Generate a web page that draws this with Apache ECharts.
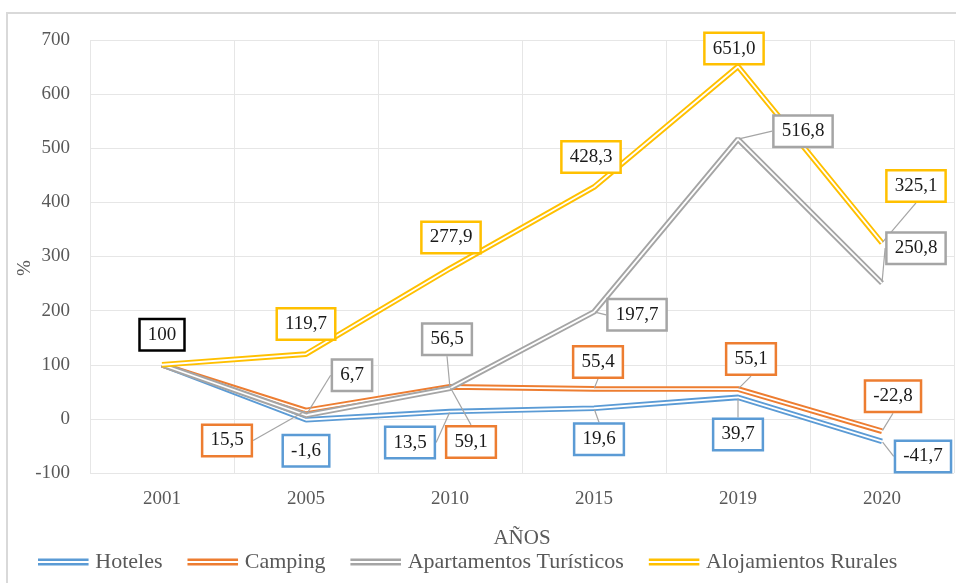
<!DOCTYPE html>
<html>
<head>
<meta charset="utf-8">
<script src="https://cdn.jsdelivr.net/npm/echarts@6/dist/echarts.min.js"></script>
<style>html,body{margin:0;padding:0;background:#fff}#c{width:956px;height:583px}</style>
</head>
<body>
<div id="c"></div>
<script>
// ---- data ----
const years = ['2001', '2005', '2010', '2015', '2019', '2020'];
const seriesNames = ['Hoteles', 'Camping', 'Apartamentos Turísticos', 'Alojamientos Rurales'];
const hoteles = [100, -1.6, 13.5, 19.6, 39.7, -41.7];
const camping = [100, 15.5, 59.1, 55.4, 55.1, -22.8];
const apartamentos = [100, 6.7, 56.5, 197.7, 516.8, 250.8];
const rurales = [100, 119.7, 277.9, 428.3, 651.0, 325.1];
const yTicks = [-100, 0, 100, 200, 300, 400, 500, 600, 700];

// ---- layout / style (not data) ----
const colors = ['#5B9BD5', '#ED7D31', '#A5A5A5', '#FFC000'];
const FONT = 'Liberation Serif';
// label offsets (dx,dy from point) ; null = no label ; third = show leader line
const labelOffsets = [
  [null, [0, 31, 0], [-40, 31, 1], [5, 31, 1], [0, 37, 1], [41, 15, 1]],
  [null, [-79, 30, 1], [21, 55, 1], [4, -27, 1], [13, -30, 1], [11, -35, 1]],
  [null, [46, -40, 1], [-3, -49, 1], [43, 3, 1], [65, -8, 1], [34, -35, 1]],
  [[0, -30, 0], [0, -30, 0], [1, -31, 0], [-3, -30, 0], [-4, -18, 0], [34, -57, 1]]
];
const allData = [hoteles, camping, apartamentos, rurales];

function fmt(v, i) {
  if (i === 0) return String(v);
  return v.toFixed(1).replace('.', ',');
}

const series = [];
allData.forEach((d, s) => {
  series.push({
    name: seriesNames[s], type: 'line', data: d, symbol: 'none', z: 2,
    lineStyle: { color: colors[s], width: 5.6 }, itemStyle: { color: colors[s] },
    silent: true
  });
  series.push({
    name: seriesNames[s] + '_w', type: 'line', data: d, symbol: 'none', z: 2,
    lineStyle: { color: '#ffffff', width: 1.8 }, silent: true
  });
});
allData.forEach((d, s) => {
  series.push({
    name: 'lbl' + s, type: 'line', z: 10, silent: true,
    symbol: 'circle', symbolSize: 2, showSymbol: true,
    itemStyle: { color: 'rgba(0,0,0,0)' },
    lineStyle: { width: 0, opacity: 0 },
    labelLine: { show: true, lineStyle: { color: '#A5A5A5', width: 1.2 } },
    data: d.map((v, i) => {
      const o = labelOffsets[s][i];
      return {
        value: v,
        label: {
          show: !!o,
          position: 'inside',
          formatter: fmt(v, i),
          borderColor: i === 0 ? '#000000' : colors[s]
        },
        labelLine: { show: !!(o && o[2]) }
      };
    }),
    label: {
      fontFamily: FONT, fontSize: 19, color: '#1a1a1a',
      backgroundColor: '#ffffff', borderWidth: 2.5,
      padding: [6, 7, 4, 7]
    },
    labelLayout: function (p) {
      const o = labelOffsets[s][p.dataIndex];
      if (!o) return {};
      return { dx: o[0], dy: o[1] };
    }
  });
});

const chart = echarts.init(document.getElementById('c'), null, { renderer: 'canvas' });
chart.setOption({
  animation: false,
  backgroundColor: '#ffffff',
  grid: { left: 90, right: 2, top: 40, bottom: 110 },
  xAxis: {
    type: 'category', data: years, boundaryGap: true,
    axisLine: { show: false }, axisTick: { show: false },
    splitLine: { show: true, lineStyle: { color: '#E6E6E6', width: 1 } },
    axisLabel: { fontFamily: FONT, fontSize: 19, color: '#595959', margin: 17 },
    name: 'AÑOS', nameLocation: 'middle', nameGap: 55,
    nameTextStyle: { fontFamily: FONT, fontSize: 21, color: '#595959' }
  },
  yAxis: {
    type: 'value', min: yTicks[0], max: yTicks[yTicks.length - 1], interval: 100,
    axisLine: { show: false }, axisTick: { show: false },
    splitLine: { lineStyle: { color: '#E6E6E6', width: 1 } },
    axisLabel: { fontFamily: FONT, fontSize: 19, color: '#595959', margin: 20 }
  },
  legend: {
    data: seriesNames.map((n) => ({ name: n, icon: 'path://M0,0H52V2.6H0Z M0,4.6H52V7.2H0Z' })),
    left: 38, top: 551, itemWidth: 52, itemHeight: 7, itemGap: 25, padding: 0,
    textStyle: { fontFamily: FONT, fontSize: 22, color: '#595959', padding: [0, 0, 0, 1] },
    selectedMode: false
  },
  graphic: [
    { type: 'rect', shape: { x: 7, y: 13, width: 1000, height: 1000 }, style: { fill: 'none', stroke: '#D9D9D9', lineWidth: 2 }, silent: true },
    { type: 'text', x: 25, y: 268, rotation: Math.PI / 2, style: { text: '%', fontFamily: FONT, fontSize: 19, fill: '#595959', align: 'center', verticalAlign: 'middle' } }
  ],
  series: series
});
</script>
</body>
</html>
